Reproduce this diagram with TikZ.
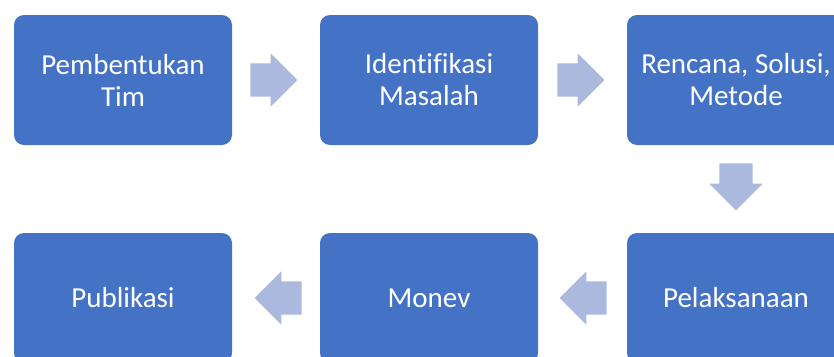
\documentclass[tikz,border=0pt]{standalone}
\usepackage{fontspec}
\setmainfont{Carlito}[Ligatures=NoCommon]
\usetikzlibrary{shapes.arrows,calc}
\definecolor{azul}{RGB}{68,114,196}
\definecolor{azulclaro}{RGB}{171,185,222}

\begin{document}
\begin{tikzpicture}[x=1pt, y=-1pt]
            % Estilos
            \tikzset{etapa/.style={rectangle, rounded corners=10pt, fill=azul, text=white, minimum width=218pt, minimum height=130pt, align=center, font=\fontsize{29}{32}\selectfont}}
            \tikzset{seta/.style={single arrow, fill=azulclaro, minimum height=47pt, minimum width=0pt, inner xsep=0pt, inner ysep=16.5pt, single arrow head extend=10pt}}
            \tikzset{setabaixo/.style={seta, shape border rotate=270, inner xsep=16.5pt, inner ysep=0pt}}

            \clip (0,0) rectangle (834,356);

            % Etapas
            \node[etapa] (e1) at (123,80) {Pembentukan\\Tim};
            \node[etapa] (e2) at (429,80) {Identifikasi\\Masalah};
            \node[etapa] (e3) at (736,80) {Rencana, Solusi,\\Metode};
            \node[etapa] (e4) at (736,298) {Pelaksanaan};
            \node[etapa] (e5) at (429,298) {Monev};
            \node[etapa] (e6) at (123,298) {Publikasi};

            % Setas
            \node[seta, anchor=tail] (s1) at ($(e1.east)+(18,0)$) {};
            \node[seta, anchor=tail] (s2) at ($(e2.east)+(19,0)$) {};
            \node[setabaixo, anchor=tail] (s3) at ($(e3.south)+(0,18)$) {};
            \node[seta, shape border rotate=180, anchor=tail] (s4) at ($(e4.west)+(-20,0)$) {};
            \node[seta, shape border rotate=180, anchor=tail] (s5) at ($(e5.west)+(-18,0)$) {};
\end{tikzpicture}
\end{document}
